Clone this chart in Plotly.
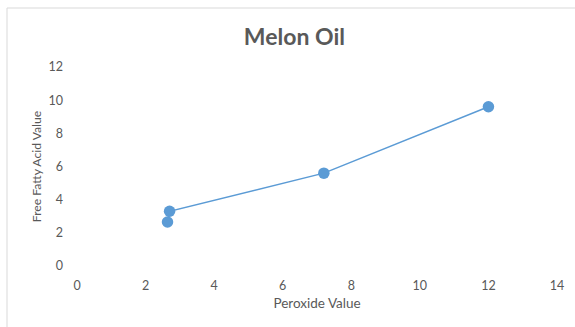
import plotly.graph_objects as go

# Melon oil: peroxide value vs free fatty acid value
peroxide_value = [2.64, 2.7, 7.2, 12.0]
free_fatty_acid = [2.65, 3.3, 5.6, 9.6]

x_ticks = [0, 2, 4, 6, 8, 10, 12, 14]
y_ticks = [0, 2, 4, 6, 8, 10, 12]

blue = "#5B9BD5"
grey = "#595959"

fig = go.Figure()
fig.add_trace(go.Scatter(
    x=peroxide_value, y=free_fatty_acid,
    mode="lines+markers",
    line=dict(color=blue, width=1.5),
    marker=dict(color=blue, size=11.5),
    showlegend=False,
))

fig.update_layout(
    width=575, height=327,
    margin=dict(l=77, r=18, t=67, b=61),
    paper_bgcolor="white", plot_bgcolor="white",
    font=dict(family="Lato, Carlito, sans-serif", color=grey, size=12.5),
    title=dict(text="<b>Melon Oil</b>", x=0.512, xanchor="center",
               y=0.888, yanchor="middle",
               font=dict(size=23, color=grey)),
    xaxis=dict(range=[0, 14], tickvals=x_ticks, showgrid=False,
               zeroline=False, showline=False, ticks="",
               ticklabelstandoff=10,
               title=dict(text="Peroxide Value", standoff=7,
                          font=dict(size=13.5, color=grey))),
    yaxis=dict(range=[0, 12], tickvals=y_ticks, showgrid=False,
               zeroline=False, showline=False, ticks="",
               ticklabelstandoff=13,
               title=dict(text="Free Fatty Acid Value", standoff=4,
                          font=dict(size=12.2, color=grey))),
    # light chart-area frame (left and top edges fall inside the page)
    shapes=[dict(type="rect", xref="paper", yref="paper",
                 x0=-70 / 480, x1=1.2, y0=-0.5, y1=258 / 199,
                 line=dict(color="#D9D9D9", width=1), layer="below")],
)

fig.write_html("out.html")
